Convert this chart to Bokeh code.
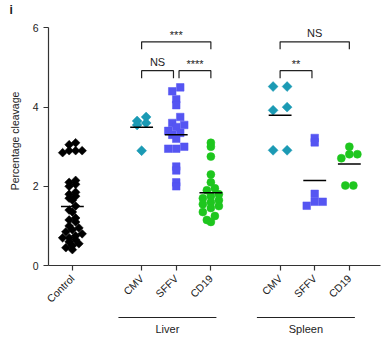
import numpy as np
from bokeh.plotting import figure
from bokeh.layouts import column
from bokeh.models import Range1d, FixedTicker
from bokeh.core.properties import value
from bokeh.embed import file_html
from bokeh.resources import INLINE

# ---------------- data ----------------
groups = ["", "Liver", "Spleen"]
categories = [["Control"], ["CMV", "SFFV", "CD19"], ["CMV", "SFFV", "CD19"]]

control = [3.1, 3.05, 2.9, 2.9, 2.85, 2.9, 2.15, 2.1, 2.05, 2.0, 1.85, 1.8,
           1.75, 1.7, 1.65, 1.5, 1.4, 1.35, 1.2, 1.15, 1.1, 1.0, 0.95, 0.9,
           0.85, 0.8, 0.75, 0.7, 0.7, 0.65, 0.6, 0.55, 0.5, 0.45, 0.4]
liver_cmv = [3.75, 3.65, 3.6, 3.55, 2.9]
liver_sffv = [4.5, 4.4, 4.2, 4.05, 3.75, 3.6, 3.55, 3.5, 3.4, 3.35, 3.3,
              3.2, 3.0, 2.95, 2.95, 2.5, 2.4, 2.1, 2.0]
liver_cd19 = [3.1, 3.0, 2.75, 2.3, 2.1, 1.95, 1.9, 1.8, 1.75, 1.7, 1.65,
              1.6, 1.55, 1.5, 1.45, 1.35, 1.25, 1.15, 1.1]
spleen_cmv = [4.52, 4.52, 4.0, 3.92, 2.91, 2.91]
spleen_sffv = [3.22, 3.11, 1.81, 1.61, 1.61, 1.51]
spleen_cd19 = [3.0, 2.81, 2.81, 2.71, 2.02, 2.02]

series = [control, liver_cmv, liver_sffv, liver_cd19,
          spleen_cmv, spleen_sffv, spleen_cd19]

# significance brackets: (group, from category, to category, label, level)
brackets = [
    ("Liver", "CMV", "CD19", "***", 2),
    ("Liver", "CMV", "SFFV", "NS", 1),
    ("Liver", "SFFV", "CD19", "****", 1),
    ("Spleen", "CMV", "CD19", "NS", 2),
    ("Spleen", "CMV", "SFFV", "**", 1),
]

y_ticks = [0, 2, 4, 6]
y_label = "Percentage cleavage"
panel_letter = "i"

# ---------------- styling ----------------
FONT = "Liberation Sans"
TEXT = "#222222"
TEAL = "#1b9ab4"
BLUE = "#5555f2"
GREEN = "#1ec61e"
# marker, colour, size, angle, row height px, column width px
styles = [
    ("square", "black", 6.2, np.pi / 4, 5.5, 6.5),
    ("square", TEAL, 7.0, np.pi / 4, 8.0, 9.0),
    ("square", BLUE, 7.6, 0, 7.5, 8.0),
    ("circle", GREEN, 8.0, 0, 7.5, 8.0),
    ("square", TEAL, 7.0, np.pi / 4, 8.0, 14.0),
    ("square", BLUE, 7.6, 0, 7.5, 8.0),
    ("circle", GREEN, 8.0, 0, 7.5, 8.0),
]

# category positions (one empty slot between groups)
positions = []
group_span = {}
pos = 0
for g, cats in zip(groups, categories):
    start = pos
    for c in cats:
        positions.append(pos)
        pos += 1
    group_span[g] = (start, pos - 1)
    pos += 1
labels_flat = [c for cats in categories for c in cats]

PX_X = 34.6   # pixels per x unit
PX_Y = 39.75  # pixels per y unit

x_range = Range1d(-0.69, 8.9)
TOP = 15  # approx. title panel height
p = figure(width=382, height=312, output_backend="svg", toolbar_location=None,
           x_range=x_range, y_range=Range1d(0, (265 - TOP) / PX_Y),
           min_border_left=48, min_border_right=2, min_border_top=0,
           min_border_bottom=47)
p.outline_line_color = None
p.grid.grid_line_color = None
p.background_fill_color = "white"
p.title.text = panel_letter
p.title.text_font = FONT
p.title.text_font_size = "12px"
p.title.text_font_style = "bold"
p.title.text_color = "#1a1a1a"
p.title.align = "left"
p.title.offset = -39
p.title.standoff = 0


def swarm(vals, row_h, col_w):
    """Prism-like row swarm: bin by value, spread each row symmetrically."""
    vals = np.asarray(vals, float)
    bins = np.floor(vals * PX_Y / row_h).astype(int)
    xs = np.zeros(len(vals))
    for b in np.unique(bins):
        idx = np.where(bins == b)[0]
        n = len(idx)
        offs = (np.arange(n) - (n - 1) / 2) * col_w
        order = idx[np.argsort(vals[idx])]
        for k, i in enumerate(order):
            xs[i] = offs[k] / PX_X
    return xs


for vals, x0, (marker, color, size, ang, rh, cw) in zip(series, positions, styles):
    dx = swarm(vals, rh, cw)
    p.scatter(x=x0 + dx, y=vals, marker=marker, size=size, angle=ang,
              fill_color=color, line_color=color, line_width=0.5)
    m = float(np.mean(vals))
    p.segment(x0=[x0 - 0.33], x1=[x0 + 0.33], y0=[m], y1=[m],
              line_color="black", line_width=1.5)

# brackets
cat_pos = {}
i = 0
for g, cats in zip(groups, categories):
    for c in cats:
        cat_pos[(g, c)] = positions[i]
        i += 1

for g, a, b, txt, lvl in brackets:
    xa, xb = cat_pos[(g, a)], cat_pos[(g, b)]
    if lvl == 1:
        gap = 0.08
        if a == "SFFV":
            xa += gap
        if b == "SFFV":
            xb -= gap
        y = 4.92
    else:
        y = 5.65
    p.multi_line(xs=[[xa, xa, xb, xb]], ys=[[y - 0.19, y, y, y - 0.19]],
                 line_color=TEXT, line_width=1.2)
    star = "*" in txt
    p.text(x=[(xa + xb) / 2], y=[y + (0.02 if star else 0.07)], text=[txt],
           text_font=value(FONT), text_font_size="11px",
           text_align="center", text_baseline="bottom", text_color=TEXT)

# axes
p.yaxis.ticker = FixedTicker(ticks=y_ticks)
p.yaxis.bounds = (0, 6)
p.yaxis.axis_label = y_label
p.yaxis.axis_label_text_font = FONT
p.yaxis.axis_label_text_font_size = "10.5px"
p.yaxis.axis_label_text_font_style = "normal"
p.yaxis.axis_label_text_color = TEXT
p.yaxis.axis_label_standoff = 9
p.yaxis.major_label_standoff = 5

p.xaxis.ticker = FixedTicker(ticks=positions)
p.xaxis.major_label_overrides = {float(x): l for x, l in zip(positions, labels_flat)}
p.xaxis.major_label_orientation = np.pi / 4
p.xaxis.major_label_standoff = 6

for ax in (p.xaxis[0], p.yaxis[0]):
    ax.major_label_text_font = FONT
    ax.major_label_text_font_size = "10.5px"
    ax.major_label_text_color = TEXT
    ax.axis_line_color = "#333333"
    ax.major_tick_line_color = "#333333"
    ax.axis_line_width = 1.2
    ax.major_tick_line_width = 1.2
    ax.major_tick_out = 5
    ax.major_tick_in = 0
    ax.minor_tick_line_color = None

# ---------- group lines and labels (strip below, same x scale) ----------
q = figure(width=382, height=35, output_backend="svg", toolbar_location=None,
           x_range=x_range, y_range=Range1d(0, 35),
           min_border_left=48, min_border_right=2, min_border_top=0,
           min_border_bottom=0)
q.axis.visible = False
q.grid.grid_line_color = None
q.outline_line_color = None
gx0, gx1, gmid, gname = [], [], [], []
for g in groups:
    if not g:
        continue
    s, e = group_span[g]
    x0, x1 = s - 0.67, e + 0.16
    gx0.append(x0)
    gx1.append(x1)
    gmid.append((x0 + x1) / 2)
    gname.append(g)
q.segment(x0=gx0, x1=gx1, y0=30, y1=30, line_color=TEXT, line_width=1.2)
q.text(x=gmid, y=19, text=gname, text_font=value(FONT), text_font_size="11px",
       text_align="center", text_baseline="middle", text_color=TEXT)

layout = column(p, q, spacing=0)
open("out.html", "w").write(file_html(layout, INLINE))
